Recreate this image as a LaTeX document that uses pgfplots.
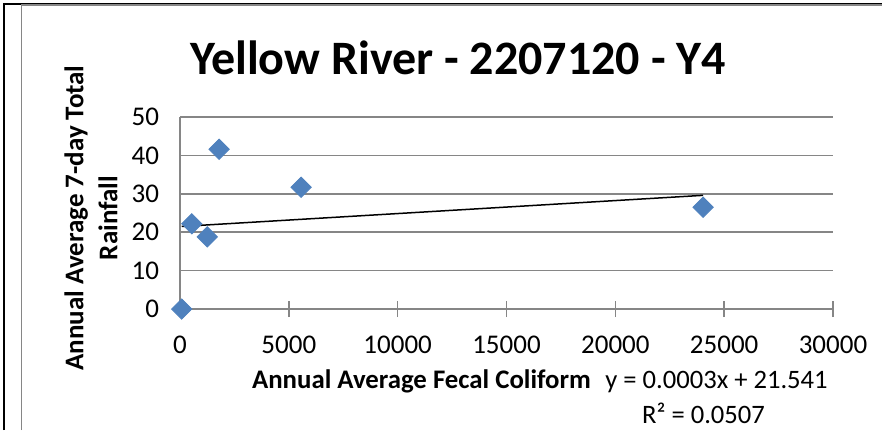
\documentclass[border=0pt]{standalone}
\usepackage{pgfplots}
\pgfplotsset{compat=1.18}
\usepackage{fontspec}
\setmainfont{Carlito}
\definecolor{exblue}{HTML}{4F81BD}
\definecolor{exgray}{HTML}{868686}
\begin{document}
\begin{tikzpicture}[x=1pt,y=1pt]
\useasboundingbox (0,0) rectangle (441,215);
% outer borders
\draw[black,line width=1pt] (2,0) -- (2,213.25) -- (441,213.25);
\draw[exgray,line width=0.8pt] (10.75,0) -- (10.75,212.5) -- (441,212.5);
\begin{axis}[
  at={(90pt,60.5pt)}, anchor=south west,
  scale only axis, width=326.5pt, height=96pt,
  xmin=0, xmax=30000, ymin=0, ymax=50,
  xtick={0,5000,...,30000}, ytick={0,10,...,50},
  scaled x ticks=false,
  axis x line*=bottom, axis y line*=left,
  axis line style={exgray,line width=0.8pt,-},
  ymajorgrids, grid style={exgray,line width=0.8pt},
  xtick align=center, major tick length=8pt,
  xtick style={exgray,line width=0.8pt},
  ytick style={draw=none},
  tick label style={font=\fontsize{13.5}{16}\selectfont},
  xticklabel style={/pgf/number format/1000 sep={}, yshift=-6pt},
  yticklabel style={xshift=-7pt},
  /pgf/number format/assume math mode=true,
  clip=false,
]
\addplot[only marks, mark=square*, mark size=3.6pt, mark options={fill=exblue,draw=exblue,rotate=45}]
  coordinates {(80,0) (540,22.2) (1254,18.8) (1792,41.6) (5560,31.7) (24030,26.5)};
\addplot[black, line width=0.75pt, no marks] coordinates {(80,21.5) (24030,29.6)};
\end{axis}
% title
\node[font=\fontsize{24}{28}\bfseries\selectfont] at (229,186) {Yellow River - 2207120 - Y4};
% y label
\node[rotate=90, align=center, font=\fontsize{13.5}{17}\bfseries\selectfont] at (45.5,106) {Annual Average 7-day Total\\Rainfall};
% x label
\node[font=\fontsize{13.4}{16}\bfseries\selectfont] at (210.75,24.5) {Annual Average Fecal Coliform};
\node[font=\fontsize{13.3}{16}\selectfont] at (358.25,24) {y = 0.0003x + 21.541};
\node[font=\fontsize{13.3}{16}\selectfont] at (351.75,8.5) {R² = 0.0507};
\end{tikzpicture}
\end{document}
